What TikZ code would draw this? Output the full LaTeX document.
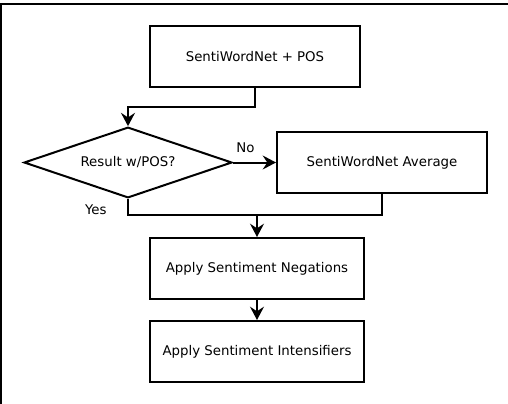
\documentclass[tikz,border=0pt]{standalone}
\usepackage{fontspec}
\setmainfont{DejaVu Sans}
\usetikzlibrary{positioning, shapes.geometric, arrows.meta}

\begin{document}
\begin{tikzpicture}[x=0.75pt, y=-0.75pt, line width=1.5pt, font=\fontsize{10}{12}\selectfont,
        step box/.style = {draw, rectangle, minimum width=157.5pt, minimum height=45.75pt},
        wide box/.style = {step box, minimum width=160.5pt},
        decision/.style = {draw, diamond, aspect=2.9, inner sep=0pt, minimum width=156pt, minimum height=53pt},
        arr/.style = {-{Stealth[length=10pt, width=10.5pt, inset=3.5pt]}},
        frame/.style = {line width=1.5pt}]
        \useasboundingbox (0,0) rectangle (508,404);
        \draw[frame] (1,404) -- (1,4) -- (508,4);
        \node[step box] (pos) at (255,56.5) {SentiWordNet + POS};
        \node[decision] (result) at (128,162.5) {Result w/POS?};
        \node[step box] (avg) at (382,162.5) {SentiWordNet Average};
        \node[wide box] (neg) at (257,268.5) {Apply Sentiment Negations};
        \node[wide box] (int) [below=15pt of neg] {Apply Sentiment Intensifiers};
        \draw[arr] (pos.south) -- ++(0,19) -| (result.north);
        \draw[arr] (result.east) -- node[pos=0, above right=3pt and -1.5pt] {No} (avg.west);
        \draw (result.south) -- node[pos=0.7, left=12pt] {Yes} ++(0,16) coordinate (join) -| (avg.south);
        \draw[arr] (neg.north |- join) -- (neg.north);
        \draw[arr] (neg.south) -- (int.north);
    \end{tikzpicture}
\end{document}
